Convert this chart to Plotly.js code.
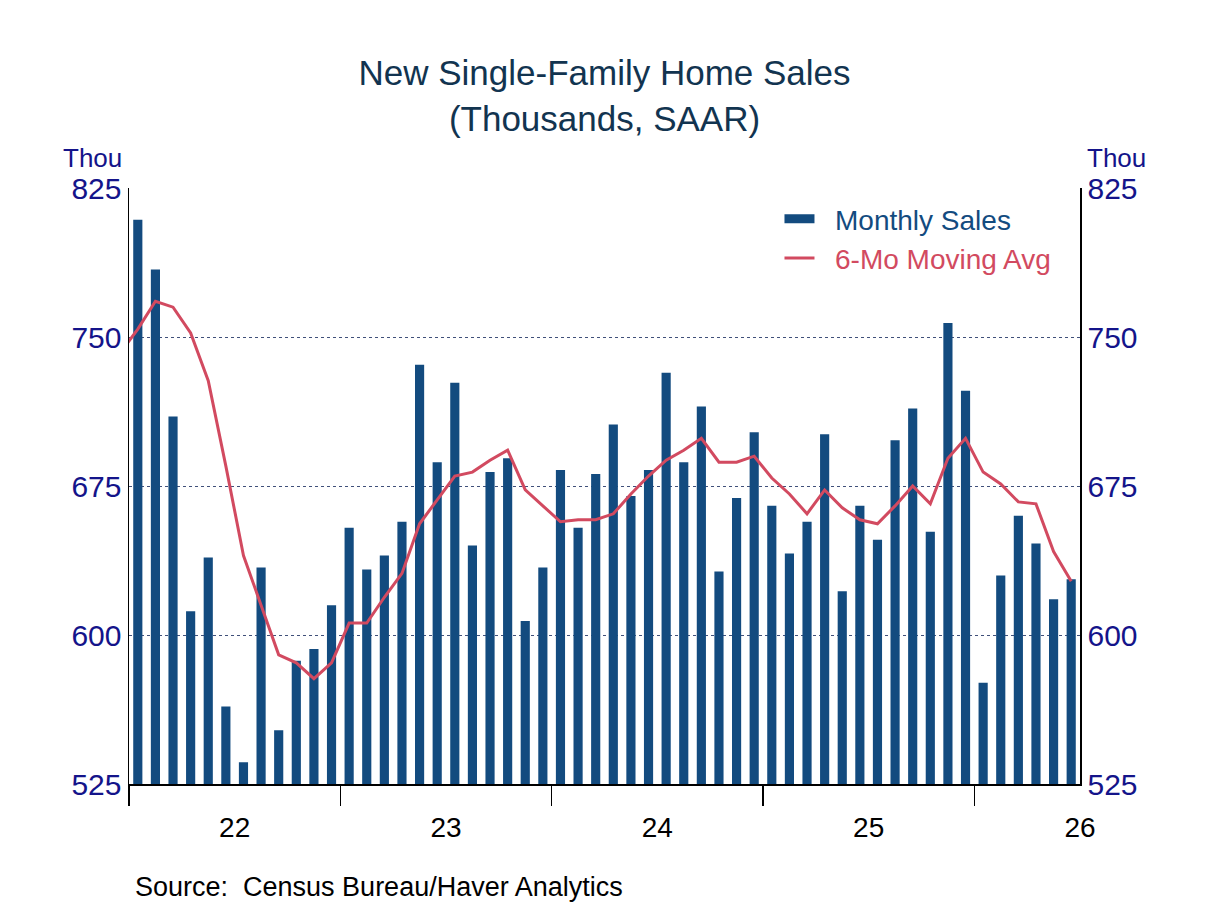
<!DOCTYPE html>
<html>
<head>
<meta charset="utf-8">
<script src="https://cdn.plot.ly/plotly-3.0.1.min.js"></script>
<style>
  html, body { margin: 0; padding: 0; background: #ffffff; }
  #chart { width: 1208px; height: 906px; }
</style>
</head>
<body>
<div id="chart"></div>
<script>
// Monthly new single-family home sales (thousands, SAAR), first month = Jan 2022
const monthlySales = [
  809, 784, 710, 612, 639, 564, 536, 634, 552, 587, 593, 615,
  654, 633, 640, 657, 736, 687, 727, 645, 682, 689, 607, 634,
  683, 654, 681, 706, 670, 683, 732, 687, 715, 632, 669, 702,
  665, 641, 657, 701, 622, 665, 648, 698, 714, 652, 757, 723,
  576, 630, 660, 646, 618, 628
];
// 6-month moving average, first value = Dec 2021 (one month before the first bar)
const movingAvg = [
  742,
  754, 768, 765, 752, 728, 685, 640, 615, 590, 586, 578, 586,
  606, 606, 619, 631, 656, 668, 680, 682, 688, 693, 673, 665,
  657, 658, 658, 661, 671, 680, 688, 693, 699, 687, 687, 690,
  679, 671, 661, 673, 664, 658, 656, 665, 675, 666, 689, 699,
  682, 676, 667, 666, 642, 627
];
const yearLabels = ['22', '23', '24', '25', '26'];
const yTicks = [525, 600, 675, 750, 825];

const barX = monthlySales.map((v, i) => i);
const lineX = movingAvg.map((v, i) => i - 1);
const n = monthlySales.length;
const xRange = [-0.5, n - 0.5];
const yearBoundaries = [];
const yearCenters = [];
for (let k = 0; k < yearLabels.length; k++) {
  yearCenters.push(-0.5 + 6 + 12 * k);
  if (-0.5 + 12 * k < n - 0.5) yearBoundaries.push(-0.5 + 12 * k);
}

const FONT = 'Liberation Sans, Arial, sans-serif';
const NAVY = '#14148a';
const BAR = '#134b7f';
const RED = '#d24a60';

const traces = [
  {
    type: 'bar', x: barX, y: monthlySales, xaxis: 'x', yaxis: 'y',
    name: 'Monthly Sales', showlegend: false,
    marker: { color: BAR, line: { width: 0 } },
    width: 0.52, hoverinfo: 'skip'
  },
  {
    // legend key only: thick horizontal bar like the reference legend
    type: 'scatter', mode: 'lines', x: [null], y: [null], xaxis: 'x', yaxis: 'y',
    name: '<span style="color:' + BAR + '">\u00a0\u00a0Monthly Sales</span>',
    line: { color: BAR, width: 9 }, hoverinfo: 'skip'
  },
  {
    type: 'scatter', mode: 'lines', x: lineX, y: movingAvg, xaxis: 'x2', yaxis: 'y2',
    name: '<span style="color:' + RED + '">\u00a0\u00a06-Mo Moving Avg</span>',
    line: { color: RED, width: 3 }, hoverinfo: 'skip'
  }
];

const layout = {
  width: 1208, height: 906,
  paper_bgcolor: '#ffffff', plot_bgcolor: '#ffffff',
  margin: { l: 129, r: 128, t: 188, b: 122, pad: 0 },
  font: { family: FONT, size: 28, color: '#000000' },
  showlegend: true,
  title: {
    text: 'New Single-Family Home Sales<br>(Thousands, SAAR)',
    font: { family: FONT, size: 35, color: '#123450' },
    x: 0.5, xanchor: 'center', xref: 'paper',
    y: 0.906, yanchor: 'top', yref: 'container'
  },
  legend: {
    x: 0.684, xanchor: 'left', y: 0.99, yanchor: 'top',
    bgcolor: 'rgba(255,255,255,0)', borderwidth: 0,
    font: { family: FONT, size: 28 },
    tracegroupgap: 0, itemwidth: 30
  },
  xaxis: {
    range: xRange, fixedrange: true,
    tickmode: 'array', tickvals: yearBoundaries, ticktext: yearBoundaries.map(() => ''),
    ticks: 'outside', ticklen: 20, tickwidth: 1.5, tickcolor: '#000000',
    showline: true, linecolor: '#000000', linewidth: 1.5,
    showgrid: false, zeroline: false
  },
  xaxis2: {
    overlaying: 'x', anchor: 'y', side: 'bottom',
    range: xRange, fixedrange: true,
    tickmode: 'array', tickvals: yearCenters, ticktext: yearLabels,
    ticks: 'outside', ticklen: 18, tickcolor: 'rgba(0,0,0,0)',
    tickfont: { family: FONT, size: 28, color: '#000000' },
    showline: false, showgrid: false, zeroline: false
  },
  yaxis: {
    range: [525, 825], fixedrange: true,
    tickmode: 'array', tickvals: yTicks,
    ticks: '', tickfont: { family: FONT, size: 30, color: NAVY },
    showline: true, linecolor: '#000000', linewidth: 1.5,
    showgrid: true, gridcolor: '#40507a', gridwidth: 1, griddash: 'dot',
    zeroline: false
  },
  yaxis2: {
    overlaying: 'y', side: 'right', anchor: 'x',
    range: [525, 825], fixedrange: true,
    tickmode: 'array', tickvals: yTicks,
    ticks: '', tickfont: { family: FONT, size: 30, color: NAVY },
    showline: true, linecolor: '#000000', linewidth: 1.5,
    showgrid: false, zeroline: false
  },
  annotations: [
    { text: 'Thou', xref: 'paper', yref: 'paper', x: 0, y: 1.05, xanchor: 'right', yanchor: 'middle',
      xshift: -5, showarrow: false, font: { family: FONT, size: 26, color: NAVY } },
    { text: 'Thou', xref: 'paper', yref: 'paper', x: 1, y: 1.05, xanchor: 'left', yanchor: 'middle',
      xshift: 5, showarrow: false, font: { family: FONT, size: 26, color: NAVY } },
    { text: 'Source:\u00a0 Census Bureau/Haver Analytics', xref: 'paper', yref: 'paper',
      x: 0.0045, y: -0.172, xanchor: 'left', yanchor: 'middle', showarrow: false,
      font: { family: FONT, size: 27, color: '#000000' } }
  ]
};

Plotly.newPlot('chart', traces, layout, { displayModeBar: false, staticPlot: true });
</script>
</body>
</html>
